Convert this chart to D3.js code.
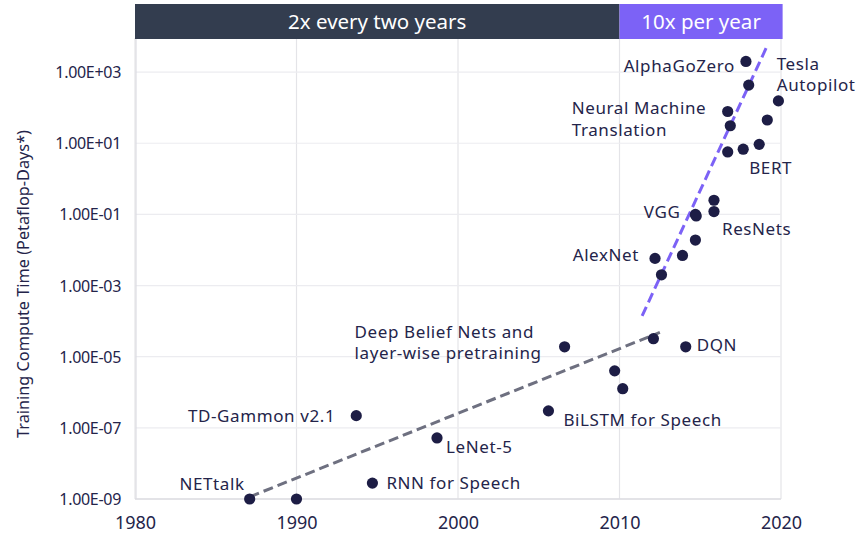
<!DOCTYPE html>
<html><head><meta charset="utf-8">
<script src="https://cdn.jsdelivr.net/npm/d3@7"></script>
<style>body{margin:0;background:#fff}svg{display:block;font-family:"Noto Sans",Lato,sans-serif}</style>
</head><body><div id="chart"></div>
<script>
// ---- data ----
const years  = [1987.1,1990.0,1994.7,1993.7,1998.7,2005.6,2006.6,2009.7,2010.2,2012.1,2014.1,2012.2,2012.6,2013.9,2014.7,2014.7,2014.75,2015.85,2015.85,2016.7,2017.66,2018.65,2016.7,2016.86,2019.15,2019.84,2017.83,2018.0];
const values = [1e-9,1e-9,2.8e-9,2.2e-7,5.2e-8,3e-7,1.9e-5,4e-6,1.26e-6,3.2e-5,1.9e-5,5.8e-3,2e-3,7e-3,1.9e-2,0.1,0.09,0.25,0.12,5.7,6.8,9.3,78,31,45,155,1990,430];
const names  = ["NETtalk","","RNN for Speech","TD-Gammon v2.1","LeNet-5","BiLSTM for Speech","Deep Belief Nets and\nlayer-wise pretraining","","","","DQN","AlexNet","","","","VGG","","","ResNets","","","BERT","Neural Machine\nTranslation","","","","AlphaGoZero","Tesla\nAutopilot"];
const xTicks = [1980,1990,2000,2010,2020];
const yTicks = [1e-9,1e-7,1e-5,1e-3,1e-1,1e1,1e3];
const yTickLabels = ["1.00E-09","1.00E-07","1.00E-05","1.00E-03","1.00E-01","1.00E+01","1.00E+03"];
const trendSlow = {years:[1987.1,2012.5], values:[1.15e-9,4.8e-5]};
const trendFast = {years:[2011.4,2019.2], values:[1.4e-4,6.2e3]};
const eras = [{label:"2x every two years", from:1980, to:2010},{label:"10x per year", from:2010, to:2020.1}];
const yTitle = "Training Compute Time (Petaflop-Days*)";

// ---- layout ----
const W=868,H=542;
const x=d3.scaleLinear().domain([1980,2020]).range([135,781]);
const y=d3.scaleLog().domain([1e-9,1e4]).range([499,36.5]);
const ink="#24244a";
const svg=d3.select("#chart").append("svg").attr("width",W).attr("height",H);

// gridlines
const g=svg.append("g");
g.selectAll(".vg").data(xTicks).join("line")
 .attr("x1",d=>x(d)).attr("x2",d=>x(d)).attr("y1",y(1e-9)).attr("y2",38)
 .attr("stroke","#e4e4e8").attr("stroke-width",1.2);
g.selectAll(".hg").data(yTicks).join("line")
 .attr("x1",x(1980)).attr("x2",x(2020)).attr("y1",d=>y(d)).attr("y2",d=>y(d))
 .attr("stroke","#ececf0").attr("stroke-width",1.2);
g.append("line").attr("x1",x(1980)+1).attr("x2",x(1980)+1).attr("y1",38).attr("y2",y(1e-9)).attr("stroke","#dcdce2").attr("stroke-width",1.2);
g.append("line").attr("x1",x(1980)).attr("x2",x(2020)).attr("y1",y(1e-9)).attr("y2",y(1e-9)).attr("stroke","#dcdce2").attr("stroke-width",1.5);

// axes (text via d3 axis)
const yAxis=d3.axisLeft(y).tickValues(yTicks).tickFormat((d,i)=>yTickLabels[i]).tickSize(0).tickPadding(14);
const ya=svg.append("g").attr("transform",`translate(${x(1980)},0)`).call(yAxis);
ya.select(".domain").remove();
ya.selectAll("text").attr("fill",ink).style("font-size","16px").style("font-family","'Noto Sans',sans-serif").attr("dy","0.35em").attr("letter-spacing","-0.3");
const xAxis=d3.axisBottom(x).tickValues(xTicks).tickFormat(d3.format("d")).tickSize(0).tickPadding(17);
const xa=svg.append("g").attr("transform",`translate(0,${y(1e-9)})`).call(xAxis);
xa.select(".domain").remove();
xa.selectAll("text").attr("fill",ink).style("font-size","18px").style("font-family","'Noto Sans',sans-serif");

// y title
svg.append("text").attr("transform",`translate(29,284) rotate(-90)`).attr("text-anchor","middle")
 .attr("fill",ink).style("font-size","16.3px").text(yTitle);

// banner
const bx=svg.append("g");
bx.selectAll("rect").data(eras).join("rect")
 .attr("x",d=>x(d.from)).attr("width",d=>x(d.to)-x(d.from)).attr("y",4).attr("height",35)
 .attr("fill",(d,i)=>i?"#7c62f6":"#333d4f");
bx.selectAll("text").data(eras).join("text")
 .attr("x",d=>(x(d.from)+x(d.to))/2).attr("y",22).attr("dy","0.35em").attr("text-anchor","middle")
 .attr("fill","#fff").style("font-size","20.5px").text(d=>d.label);

// trend lines
const line=d3.line().x(d=>x(d[0])).y(d=>y(d[1]));
svg.append("path").attr("d",line(d3.zip(trendSlow.years,trendSlow.values)))
 .attr("stroke","#6e7080").attr("stroke-width",3).attr("stroke-dasharray","10,5").attr("fill","none");
svg.append("path").attr("d",line(d3.zip(trendFast.years,trendFast.values)))
 .attr("stroke","#7c62f6").attr("stroke-width",3).attr("stroke-dasharray","10,5").attr("fill","none");

// points
const pts=d3.range(years.length).map(i=>({x:years[i],v:values[i],name:names[i]}));
svg.append("g").selectAll("circle").data(pts).join("circle")
 .attr("cx",d=>x(d.x)).attr("cy",d=>y(d.v)).attr("r",5.6).attr("fill","#1d1d45");

// labels (pixel offsets from their point)
const labelLayout={
 "NETtalk":{dx:-5,dy:-15,a:"end"},
 "RNN for Speech":{dx:14,dy:0,a:"start"},
 "TD-Gammon v2.1":{dx:-21,dy:0,a:"end"},
 "LeNet-5":{dx:9,dy:9,a:"start"},
 "BiLSTM for Speech":{dx:15,dy:9,a:"start"},
 "Deep Belief Nets and\nlayer-wise pretraining":{dx:-210,dy:-15,a:"start"},
 "DQN":{dx:11,dy:-2,a:"start"},
 "AlexNet":{dx:-16,dy:-3,a:"end"},
 "VGG":{dx:-15,dy:-2,a:"end"},
 "ResNets":{dx:8,dy:17,a:"start"},
 "BERT":{dx:-10,dy:24,a:"start"},
 "Neural Machine\nTranslation":{dx:-156,dy:-3,a:"start"},
 "AlphaGoZero":{dx:-11,dy:5,a:"end"},
 "Tesla\nAutopilot":{dx:28,dy:-21,a:"start"}
};
const lab=svg.append("g");
pts.filter(d=>d.name).forEach(d=>{
  const L=labelLayout[d.name];
  const t=lab.append("text").attr("x",x(d.x)+L.dx).attr("y",y(d.v)+L.dy)
   .attr("text-anchor",L.a).attr("fill",ink).style("font-size","17px").attr("letter-spacing","0.6");
  d.name.split("\n").forEach((s,i)=>{
    t.append("tspan").attr("x",x(d.x)+L.dx).attr("dy",i? "1.25em":"0.35em").text(s);
  });
});
</script></body></html>
